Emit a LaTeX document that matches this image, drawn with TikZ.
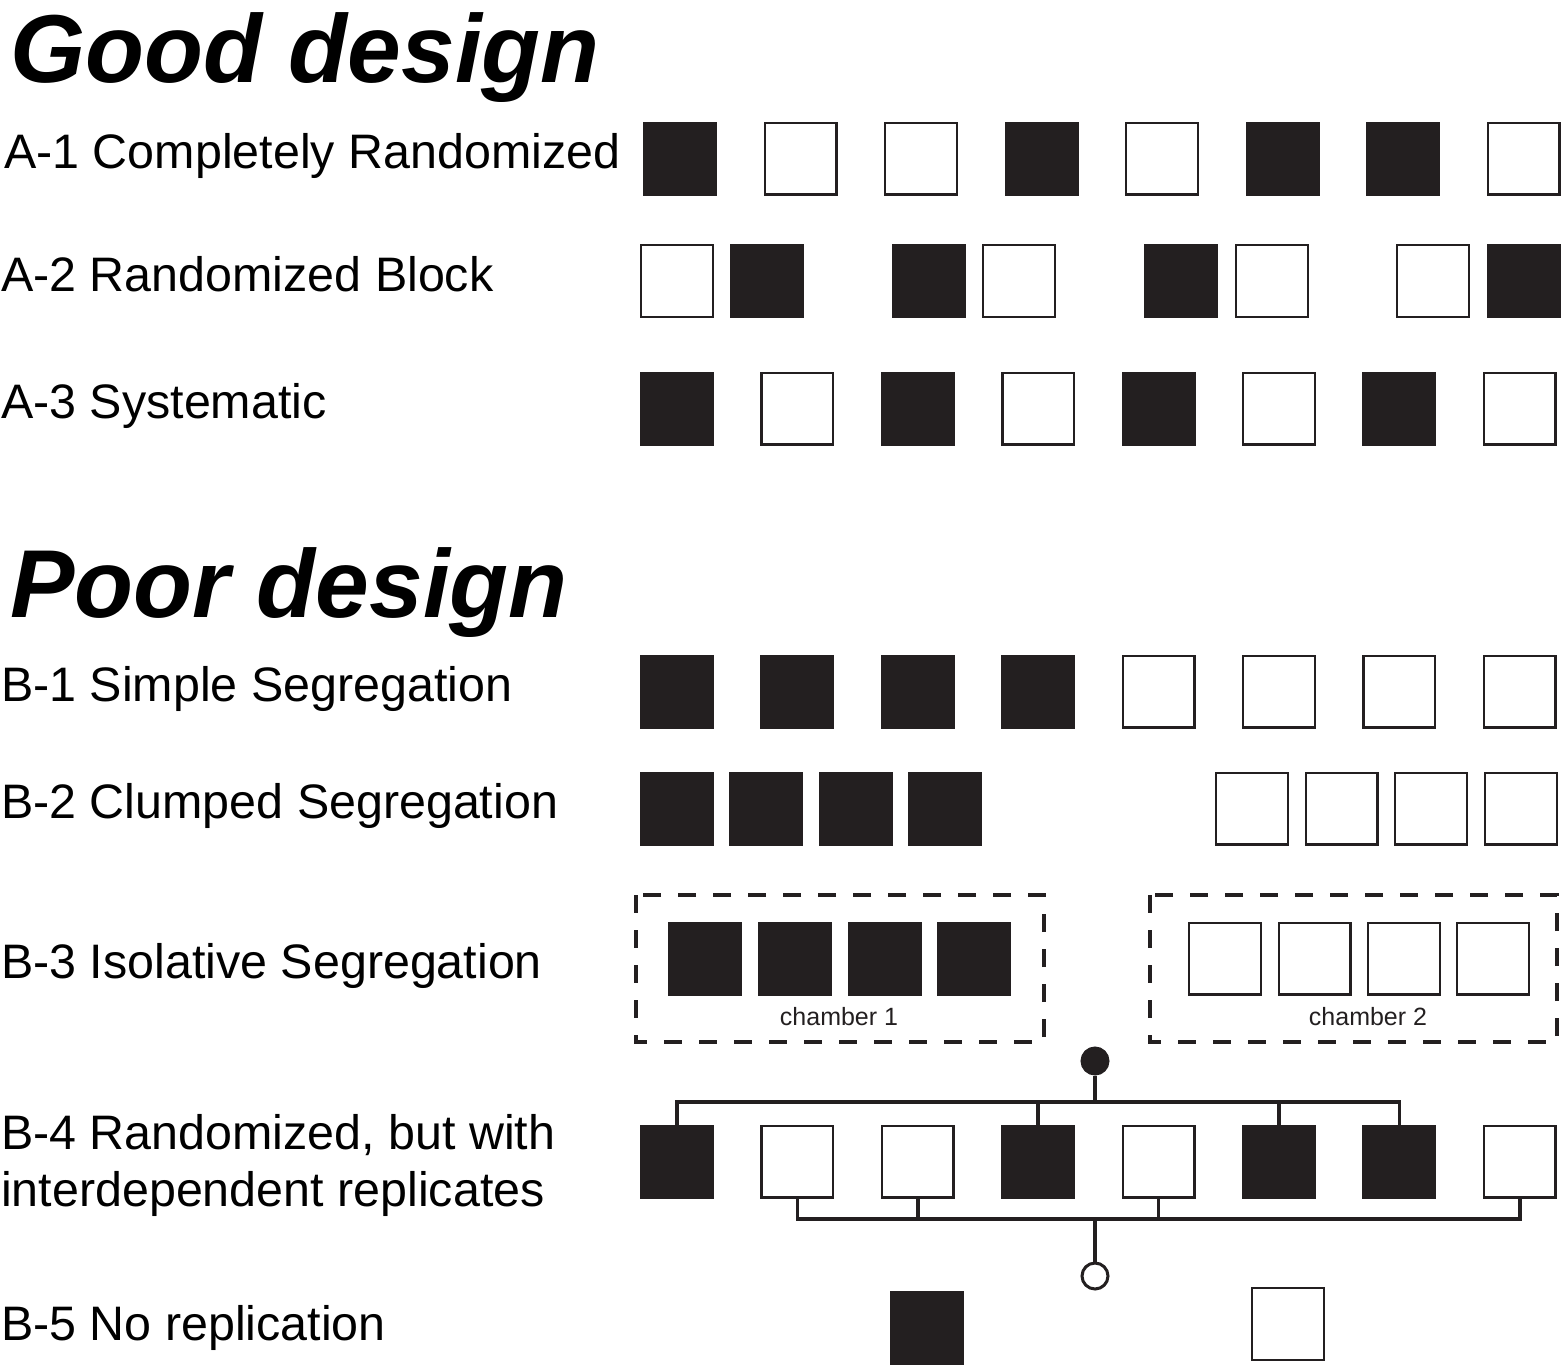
\documentclass[tikz,border=0pt]{standalone}
\usepackage{fontspec}
\setmainfont{Liberation Sans}
\definecolor{ink}{RGB}{35,31,32}
\begin{document}
\begin{tikzpicture}[x=1pt,y=-1pt,
  blk/.style={draw=ink,fill=ink,line width=1.5pt,minimum size=72.5pt,inner sep=0pt},
  wht/.style={draw=ink,fill=white,line width=2.4pt,minimum size=71.6pt,inner sep=0pt},
  lbl/.style={anchor=base west,inner sep=0pt,font=\fontsize{48.4}{57}\selectfont},
  ttl/.style={anchor=base west,inner sep=0pt,font=\fontsize{96.5}{100}\selectfont\bfseries\itshape},
  small/.style={anchor=base,inner sep=0pt,font=\fontsize{25}{28}\selectfont,text=ink},
  cham/.style={draw=ink,line width=4pt,dash pattern=on 18pt off 17pt},
  bus/.style={draw=ink,line width=3.5pt},
  dotc/.style={circle,draw=ink,line width=3pt,minimum size=26pt,inner sep=0pt}]
\useasboundingbox (0,0) rectangle (1562,1366);
% titles
\node[ttl] (good) at (10,82) {Good design};
\node[ttl] (poor) at (10,617) {Poor design};
% labels
\node[lbl] (la1) at (4,168) {A-1 Completely Randomized};
\node[lbl] (la2) at (1,291) {A-2 Randomized Block};
\node[lbl] (la3) at (1,418) {A-3 Systematic};
\node[lbl] (lb1) at (1,701) {B-1 Simple Segregation};
\node[lbl] (lb2) at (1,818) {B-2 Clumped Segregation};
\node[lbl] (lb3) at (1,978) {B-3 Isolative Segregation};
\node[lbl] (lb4a) at (1,1149) {B-4 Randomized, but with};
\node[lbl] (lb4b) at (1,1206) {interdependent replicates};
\node[lbl] (lb5) at (1,1340) {B-5 No replication};
% A-1
\foreach \s [count=\i] in {blk,wht,wht,blk,wht,blk,blk,wht}
  \node[\s] (a1-\i) at ({680+120.5*(\i-1)},158.5) {};
% A-2
\foreach \s/\x [count=\i] in {wht/677,blk/767,blk/929,wht/1019,blk/1181,wht/1272,wht/1433,blk/1524}
  \node[\s] (a2-\i) at (\x,281) {};
% A-3
\foreach \s [count=\i] in {blk,wht,blk,wht,blk,wht,blk,wht}
  \node[\s] (a3-\i) at ({677+120.4*(\i-1)},408.5) {};
% B-1
\foreach \s [count=\i] in {blk,blk,blk,blk,wht,wht,wht,wht}
  \node[\s] (b1-\i) at ({677+120.4*(\i-1)},691.5) {};
% B-2
\foreach \s/\x [count=\i] in {blk/677,blk/766,blk/856,blk/945,wht/1252,wht/1341.5,wht/1431,wht/1521}
  \node[\s] (b2-\i) at (\x,808.5) {};
% B-3
\draw[cham] (636,895) rectangle (1044,1042);
\draw[cham] (1150,895) rectangle (1557,1042);
\foreach \s/\x [count=\i] in {blk/705,blk/795,blk/885,blk/974,wht/1225,wht/1314.5,wht/1404,wht/1493}
  \node[\s] (b3-\i) at (\x,958.5) {};
\node[small] (ch1) at (839,1025) {chamber 1};
\node[small] (ch2) at (1368,1025) {chamber 2};
% B-4
\foreach \s [count=\i] in {blk,wht,wht,blk,wht,blk,blk,wht}
  \node[\s] (b4-\i) at ({677+120.4*(\i-1)},1161.5) {};
\node[dotc,fill=ink] (fdot) at (1095,1061) {};
\node[dotc,fill=white] (odot) at (1095,1276) {};
\coordinate (tb) at (1095,1102);
\coordinate (bb) at (1095,1219);
\draw[bus] (b4-1.north) |- (tb) -| (b4-7.north);
\draw[bus] (b4-4.north) -- (b4-4.north |- tb);
\draw[bus] (b4-6.north) -- (b4-6.north |- tb);
\draw[bus] (fdot) -- (tb);
\draw[bus] (b4-2.south) |- (bb) -| (b4-8.south);
\draw[bus] (b4-3.south) -- (b4-3.south |- bb);
\draw[bus] (b4-5.south) -- (b4-5.south |- bb);
\draw[bus] (odot) -- (bb);
% B-5
\node[blk] (b5-1) at (926.5,1328) {};
\node[wht] (b5-2) at (1288,1324) {};
\end{tikzpicture}
\end{document}
